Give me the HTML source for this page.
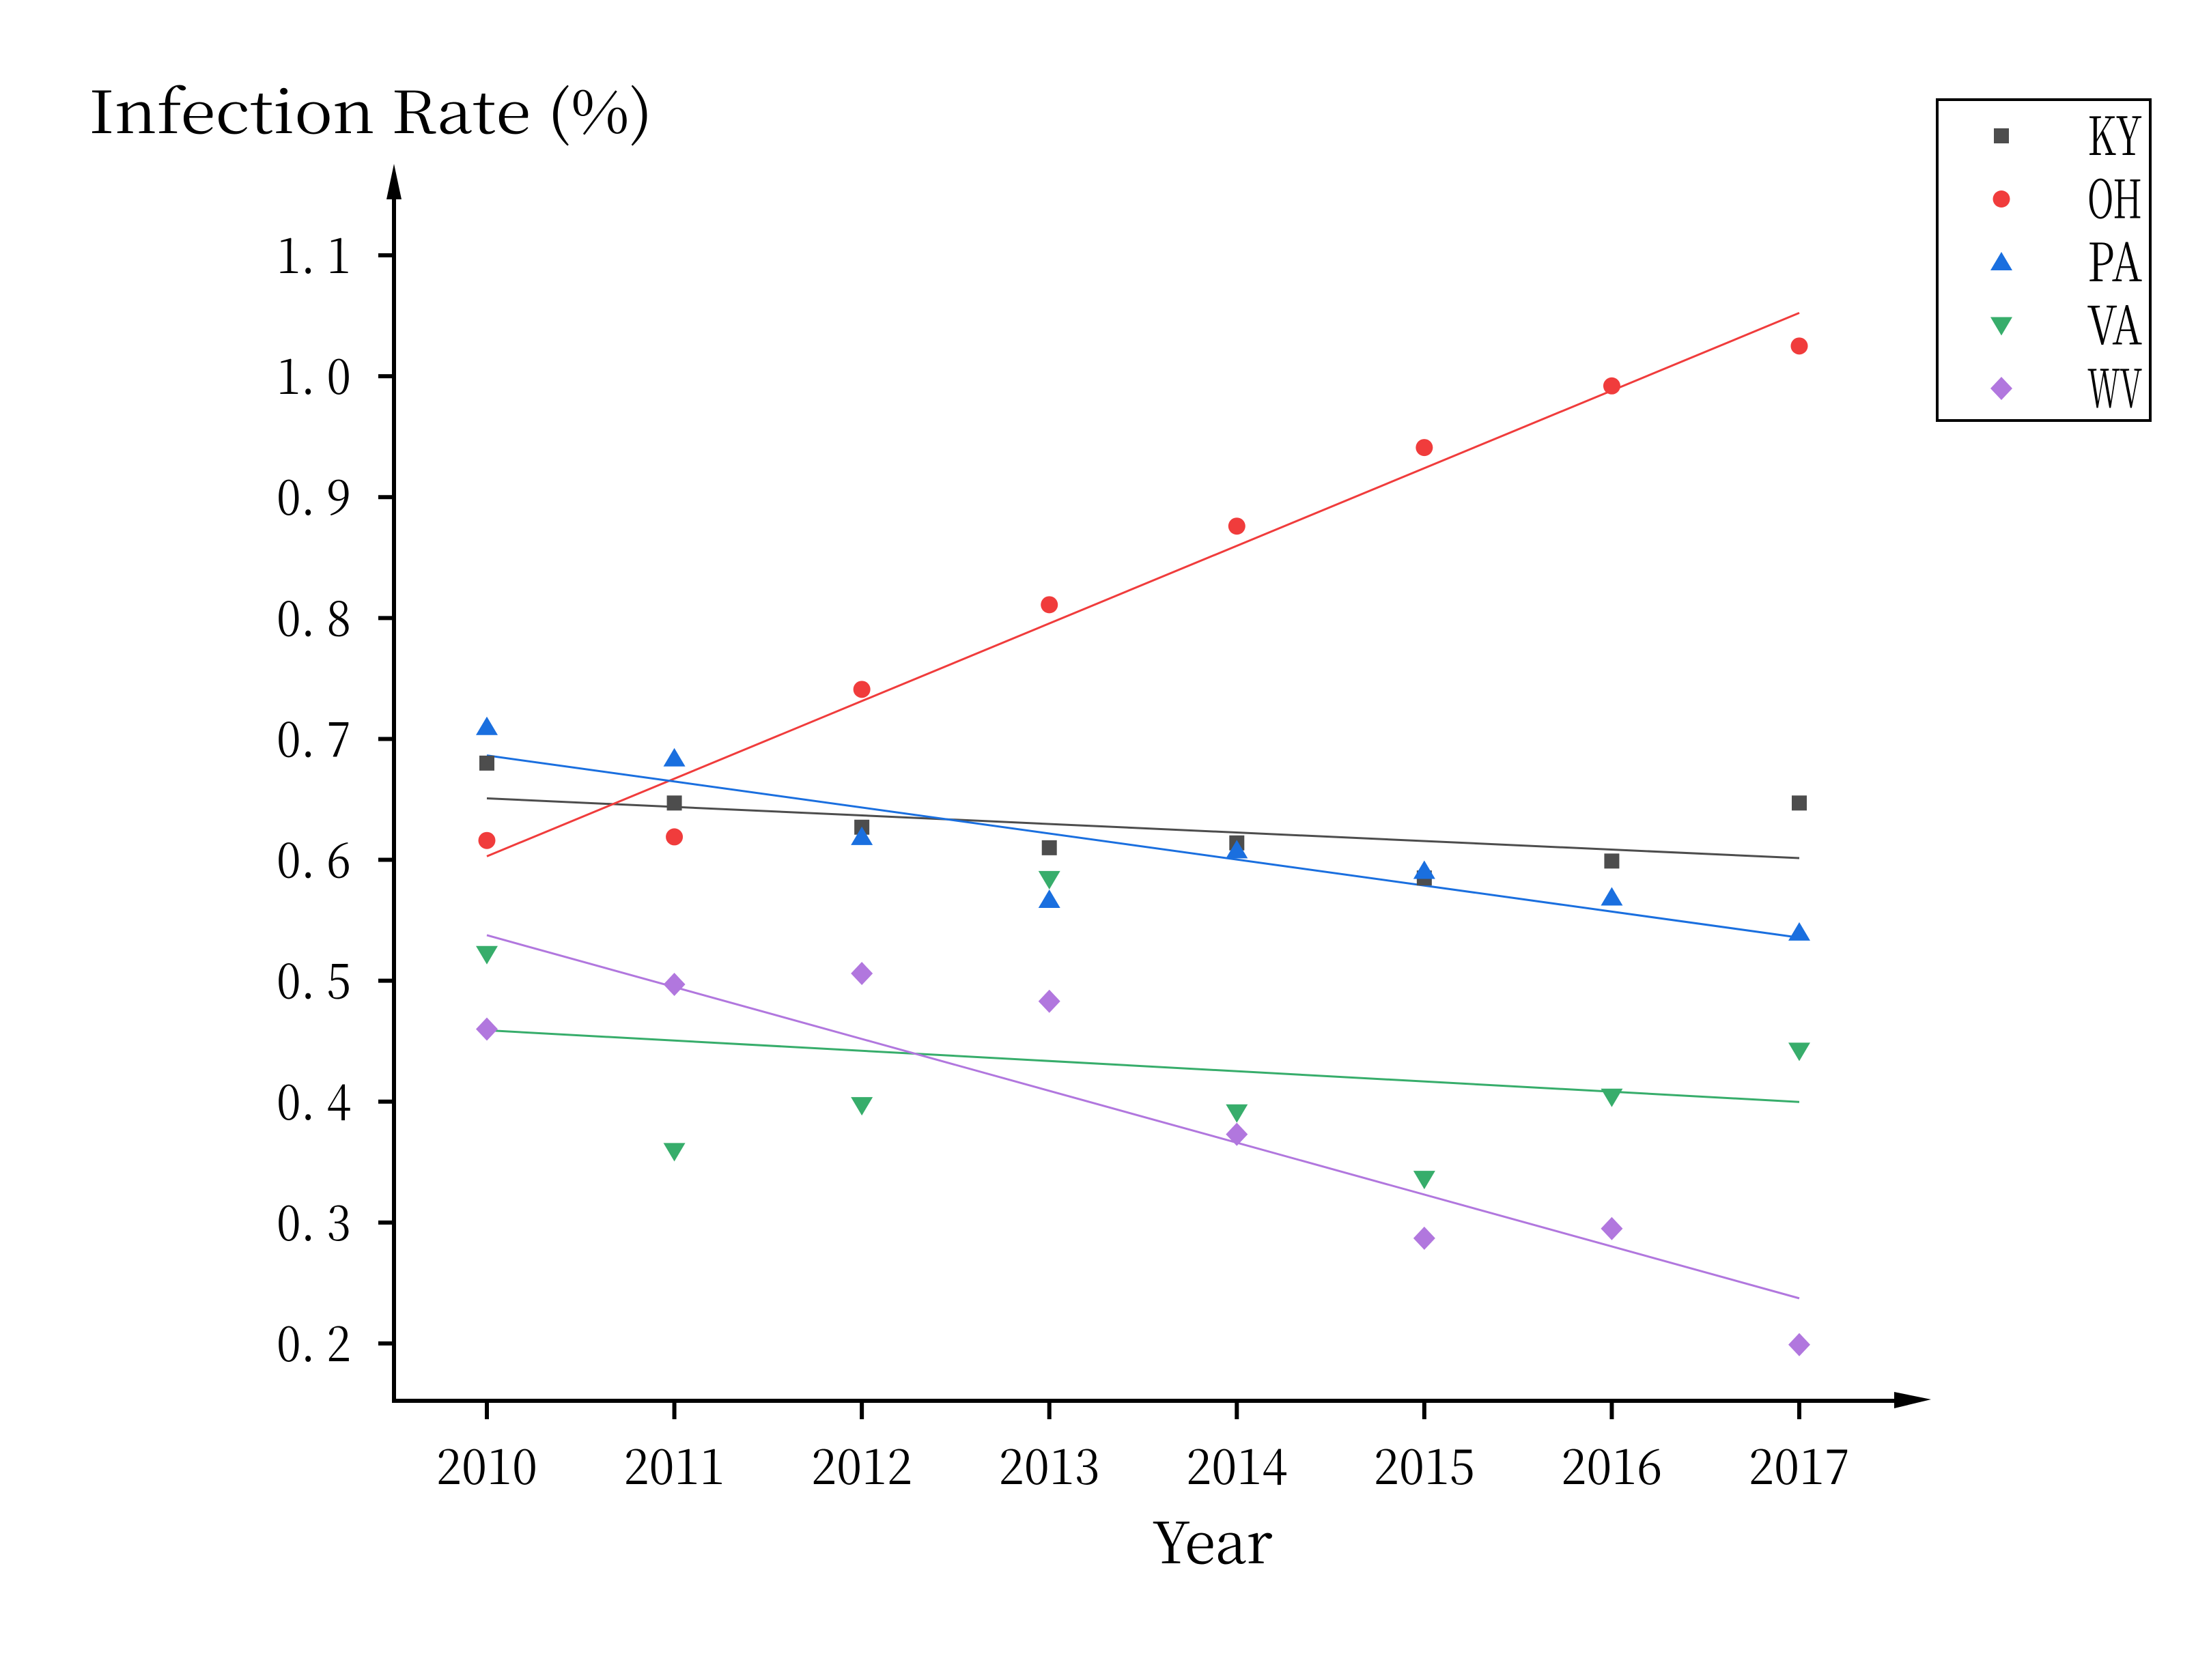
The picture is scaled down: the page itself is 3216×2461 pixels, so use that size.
<!DOCTYPE html>
<html><head><meta charset="utf-8"><style>html,body{margin:0;padding:0;background:#fff}svg{display:block}</style></head>
<body>
<svg id="chart" xmlns="http://www.w3.org/2000/svg" width="3216" height="2461" viewBox="0 0 3216 2461" font-family="'Noto Serif CJK SC','Liberation Serif',serif">
<rect width="3216" height="2461" fill="#fff"/>
<g id="axes"></g>
<g id="fits"></g>
<g id="marks"></g>
<text x="130" y="195" font-size="86" font-family="'Noto Serif CJK SC','Liberation Serif',serif" textLength="826" lengthAdjust="spacingAndGlyphs">Infection Rate (%)</text>
<text x="1775" y="2290" font-size="84" text-anchor="middle" textLength="177" lengthAdjust="spacingAndGlyphs">Year</text>
<rect x="2837" y="146" width="312" height="470" fill="#fff" stroke="#000" stroke-width="4"/>
<g id="legend"></g>
</svg>
<script>
const years = [2010, 2011, 2012, 2013, 2014, 2015, 2016, 2017];
const seriesNames = ["KY", "OH", "PA", "VA", "WV"];
const kyValues = [0.680, 0.647, 0.627, 0.610, 0.614, 0.585, 0.599, 0.647];
const ohValues = [0.616, 0.619, 0.741, 0.811, 0.876, 0.941, 0.992, 1.025];
const paValues = [0.710, 0.684, 0.619, 0.567, 0.608, 0.591, 0.569, 0.540];
const vaValues = [0.522, 0.359, 0.397, 0.584, 0.391, 0.336, 0.404, 0.442];
const wvValues = [0.460, 0.497, 0.506, 0.483, 0.373, 0.287, 0.295, 0.199];
const yTicks = [0.2, 0.3, 0.4, 0.5, 0.6, 0.7, 0.8, 0.9, 1.0, 1.1];
const yTickLabels = ["0. 2","0. 3","0. 4","0. 5","0. 6","0. 7","0. 8","0. 9","1. 0","1. 1"];

const NS = "http://www.w3.org/2000/svg";
const colors = ["#4d4d4d", "#f03c3c", "#1a6fdf", "#37ad6b", "#b177de"];
const shapes = ["square", "circle", "up", "down", "diamond"];
const allValues = [kyValues, ohValues, paValues, vaValues, wvValues];
function xScale(yr){ return 713 + (yr - 2010) * (2635 - 713) / 7; }
function yScale(v){ return 1968 - (v - 0.2) * (1968 - 374) / 0.9; }
function mk(tag, attrs, parent){ const e = document.createElementNS(NS, tag); for (const k in attrs) e.setAttribute(k, attrs[k]); parent.appendChild(e); return e; }

const axes = document.getElementById('axes');
let e;
e = mk('line', {x1:577, y1:2055, x2:577, y2:290, stroke:'#000','stroke-width':6}, axes);


e = mk('polygon', {points:'577,240 566,292 588,292', fill:'#000'}, axes);


e = mk('line', {x1:574, y1:2052, x2:2780, y2:2052, stroke:'#000','stroke-width':6}, axes);


e = mk('polygon', {points:'2828,2050 2774,2039 2774,2063', fill:'#000'}, axes);


yTicks.forEach((v, i) => {
  const y = yScale(v);
  let t = mk('line', {x1:554, y1:y, x2:577, y2:y, stroke:'#000','stroke-width':6}, axes);
  
  
  let l = mk('text', {x:514, y:y+26, 'font-size':72, 'text-anchor':'end', textLength:109, lengthAdjust:'spacingAndGlyphs'}, axes);
  l.textContent = yTickLabels[i];
  
  
});
years.forEach(yr => {
  const x = xScale(yr);
  let t = mk('line', {x1:x, y1:2052, x2:x, y2:2079, stroke:'#000','stroke-width':6}, axes);
  
  
  let l = mk('text', {x:x, y:2174, 'font-size':72, 'text-anchor':'middle', textLength:148, lengthAdjust:'spacingAndGlyphs'}, axes);
  l.textContent = String(yr);
  
  
});

function marker(shape, cx, cy, color, parent){
  if (shape === 'square') return mk('rect', {x:cx-11, y:cy-11, width:22, height:22, fill:color}, parent);
  if (shape === 'circle') return mk('circle', {cx:cx, cy:cy, r:12.5, fill:color}, parent);
  if (shape === 'up') return mk('polygon', {points:`${cx},${cy-15} ${cx-16},${cy+12} ${cx+16},${cy+12}`, fill:color}, parent);
  if (shape === 'down') return mk('polygon', {points:`${cx},${cy+15} ${cx-16},${cy-12} ${cx+16},${cy-12}`, fill:color}, parent);
  return mk('polygon', {points:`${cx},${cy-17} ${cx+16},${cy} ${cx},${cy+17} ${cx-16},${cy}`, fill:color}, parent);
}

const fits = document.getElementById('fits');
const marks = document.getElementById('marks');
const legend = document.getElementById('legend');
allValues.forEach((vals, s) => {
  const n = years.length;
  const mx = years.reduce((a,b)=>a+b,0)/n, my = vals.reduce((a,b)=>a+b,0)/n;
  let sxy = 0, sxx = 0;
  years.forEach((yr,i)=>{ sxy += (yr-mx)*(vals[i]-my); sxx += (yr-mx)*(yr-mx); });
  const b = sxy/sxx, a = my - b*mx;
  const x0 = years[0], x1 = years[n-1];
  let ln = mk('line', {x1:xScale(x0), y1:yScale(a+b*x0), x2:xScale(x1), y2:yScale(a+b*x1), stroke:colors[s], 'stroke-width':3}, fits);
  
  
  vals.forEach((v, i) => {
    const m = marker(shapes[s], xScale(years[i]), yScale(v), colors[s], marks);
    
    
  });
  const ly = 199 + s * 92.5;
  const lm = marker(shapes[s], 2931, ly, colors[s], legend);
  
  
  const lt = mk('text', {x:3137, y:ly+28, 'font-size':78, 'text-anchor':'end', textLength:80, lengthAdjust:'spacingAndGlyphs'}, legend);
  lt.textContent = seriesNames[s];
  
  
});
</script>
</body></html>
